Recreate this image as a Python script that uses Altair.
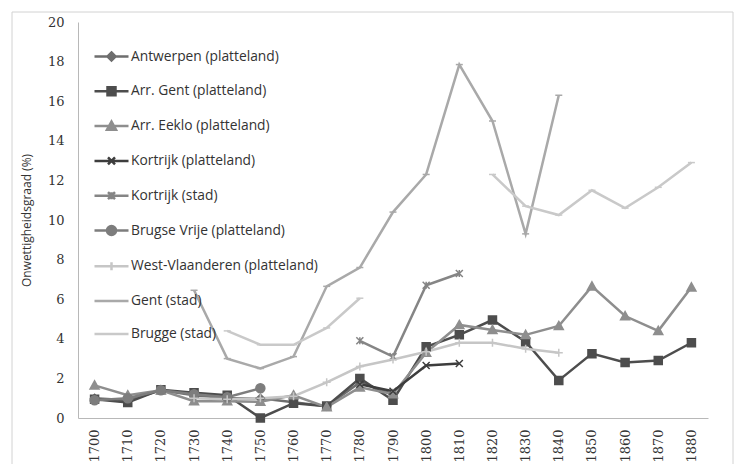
import altair as alt
import pandas as pd

# ---------------- data ----------------
years = [1700, 1710, 1720, 1730, 1740, 1750, 1760, 1770, 1780, 1790,
         1800, 1810, 1820, 1830, 1840, 1850, 1860, 1870, 1880]

series_names = [
    "Antwerpen (platteland)",
    "Arr. Gent (platteland)",
    "Arr. Eeklo (platteland)",
    "Kortrijk (platteland)",
    "Kortrijk (stad)",
    "Brugse Vrije (platteland)",
    "West-Vlaanderen (platteland)",
    "Gent (stad)",
    "Brugge (stad)",
]

antwerpen = [1.0, 0.9, 1.4, 1.15, 1.0, 1.0, 0.8, 0.6, 1.8, 1.2,
             None, None, None, None, None, None, None, None, None]
arr_gent = [0.95, 0.78, 1.43, 1.28, 1.15, 0.0, 0.75, 0.6, 2.0, 0.9,
            3.6, 4.2, 4.95, 3.85, 1.9, 3.25, 2.8, 2.9, 3.8]
arr_eeklo = [1.65, 1.15, 1.4, 0.85, 0.85, 0.82, 1.15, 0.55, 1.55, 1.2,
             3.3, 4.7, 4.45, 4.2, 4.65, 6.65, 5.15, 4.4, 6.6]
kortrijk_pl = [None, None, None, None, None, None, None, None, 1.7, 1.35,
               2.65, 2.75, None, None, None, None, None, None, None]
kortrijk_st = [None, None, None, None, None, None, None, None, 3.9, 3.1,
               6.7, 7.3, None, None, None, None, None, None, None]
brugse_vrije = [0.9, 1.0, 1.4, 1.2, 1.05, 1.5, None, None, None, None,
                None, None, None, None, None, None, None, None, None]
west_vl = [None, None, None, 1.0, 0.95, 1.0, 1.1, 1.8, 2.6, 2.95,
           3.35, 3.8, 3.8, 3.5, 3.3, None, None, None, None]
gent_stad = [None, None, None, 6.45, 3.0, 2.5, 3.1, 6.65, 7.6, 10.4,
             12.3, 17.85, 15.0, 9.3, 16.3, None, None, None, None]
brugge_stad = [None, None, None, None, 4.4, 3.7, 3.7, 4.55, 6.05, None,
               None, None, 12.3, 10.7, 10.25, 11.5, 10.6, 11.65, 12.9]

series_values = [antwerpen, arr_gent, arr_eeklo, kortrijk_pl, kortrijk_st,
                 brugse_vrije, west_vl, gent_stad, brugge_stad]

y_ticks = [0, 2, 4, 6, 8, 10, 12, 14, 16, 18, 20]

# ---------------- styles ----------------
colors = ["#6e6e6e", "#4d4d4d", "#8e8e8e", "#3d3d3d", "#858585",
          "#7d7d7d", "#c6c6c6", "#a9a9a9", "#c9c9c9"]
marker_kinds = ["diamond", "square", "triangle", "x", "star",
                "circle", "plus", "dash", "dash"]


def marker_path(kind, h):
    h = round(h, 3)
    if kind == "square":
        return f"M{-h},{-h}H{h}V{h}H{-h}Z"
    if kind == "diamond":
        return f"M0,{-h}L{h},0L0,{h}L{-h},0Z"
    if kind == "triangle":
        return f"M0,{-h}L{h},{round(h*0.8,3)}H{-h}Z"
    if kind == "circle":
        return f"M{-h},0A{h},{h} 0 1 0 {h},0A{h},{h} 0 1 0 {-h},0Z"
    if kind == "x":
        return f"M{-h},{-h}L{h},{h}M{-h},{h}L{h},{-h}"
    if kind == "star":
        return f"M{-h},{-h}L{h},{h}M{-h},{h}L{h},{-h}M0,{-h}V{h}"
    if kind == "plus":
        return f"M{-h},0H{h}M0,{-h}V{h}"
    return f"M{-h},0H{h}"


marker_px = {"square": 4, "diamond": 4, "triangle": 4.5, "circle": 4.5,
             "x": 3.5, "star": 3.5, "plus": 4, "dash": 3.5}

PLOT_SIZE = 144      # 12 px box -> 6 px per unit
LEG_SIZE = 1156      # 34 px box -> 17 px per unit
plot_paths = [marker_path(k, marker_px[k] / 6.0) for k in marker_kinds]
legend_paths = ["M-1,0H1" + (marker_path(k, marker_px[k] / 17.0) if k != "dash" else "")
                for k in marker_kinds]

# ---------------- long table ----------------
rows = []
for name, vals in zip(series_names, series_values):
    run, prev = 0, False
    for yr, v in zip(years, vals):
        if v is None:
            prev = False
            continue
        if not prev:
            run += 1
        prev = True
        rows.append({"year": yr, "value": v, "series": name, "run": f"{name}|{run}"})
df = pd.DataFrame(rows)

TEXT = "#333333"
color_scale = alt.Scale(domain=series_names, range=colors)

x_enc = alt.X("year:O", scale=alt.Scale(type="point", padding=0.5),
              axis=alt.Axis(title=None, labelAngle=270, ticks=False, labelPadding=11,
                            domainColor="#b8b8b8", labelFont="DejaVu Serif",
                            labelFontSize=13, labelColor=TEXT))
y_enc = alt.Y("value:Q", scale=alt.Scale(domain=[0, 20], nice=False),
              axis=alt.Axis(values=y_ticks, title="Onwettigheidsgraad (%)", grid=False,
                            ticks=False, labelPadding=14, domainColor="#b8b8b8",
                            labelFont="DejaVu Serif", labelFontSize=13, labelColor=TEXT,
                            titleFont="Open Sans", titleFontSize=12, titleFontWeight="normal",
                            titleColor=TEXT, titlePadding=14))

base = alt.Chart(df)

lines = base.mark_line(strokeWidth=2.5).encode(
    x=x_enc, y=y_enc,
    color=alt.Color("series:N", scale=color_scale, legend=None),
    detail="run:N",
)

points = base.mark_point(filled=True, size=PLOT_SIZE, strokeWidth=1.5, opacity=1).encode(
    x=x_enc, y=y_enc,
    color=alt.Color("series:N", scale=color_scale, legend=None),
    stroke=alt.Stroke("series:N", scale=color_scale, legend=None),
    shape=alt.Shape("series:N", scale=alt.Scale(domain=series_names, range=plot_paths), legend=None),
)

leg = dict(title=None, orient="none", legendX=15, legendY=16, symbolSize=LEG_SIZE,
           symbolStrokeWidth=2.5, symbolOpacity=1, labelFont="Open Sans", labelFontSize=13.8,
           labelColor=TEXT, rowPadding=6.8, labelOffset=1, labelLimit=400)

legend_layer = base.transform_filter("false").mark_point(
    filled=True, size=LEG_SIZE, strokeWidth=2.5, opacity=1).encode(
    x=x_enc, y=y_enc,
    color=alt.Color("series:N", scale=color_scale, legend=alt.Legend(**leg)),
    stroke=alt.Stroke("series:N", scale=color_scale, legend=alt.Legend(**leg)),
    shape=alt.Shape("series:N", scale=alt.Scale(domain=series_names, range=legend_paths),
                    legend=alt.Legend(**leg)),
)

frame = alt.Chart(pd.DataFrame({"f": [0]})).mark_rect(
    fillOpacity=0, stroke="#d2d2d2", strokeWidth=1, clip=False).encode(
    x=alt.value(-66), x2=alt.value(655), y=alt.value(-10), y2=alt.value(444))

chart = alt.layer(frame, lines, points, legend_layer).resolve_scale(
    shape="independent"
).resolve_legend(
    color="independent", stroke="independent", shape="independent"
).properties(
    width=630, height=396,
    autosize=alt.AutoSizeParams(type="none"),
    padding={"left": 70, "top": 14, "right": 27, "bottom": 46},
    background="white",
).configure_view(stroke=None)

chart.save("out.html", embed_options={"renderer": "svg", "actions": False})
